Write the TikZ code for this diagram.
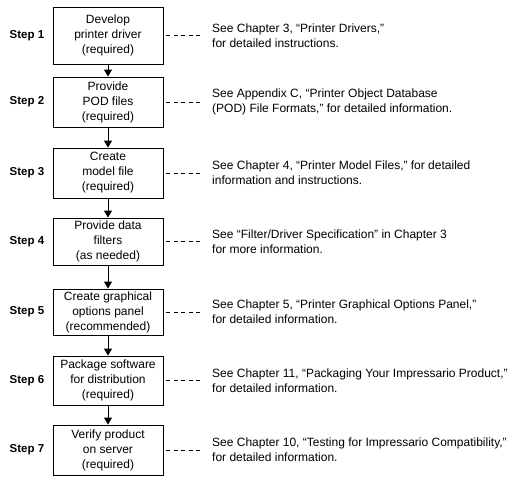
\documentclass[tikz,border=0pt]{standalone}
\usepackage{fontspec}
\setmainfont{Liberation Sans}
\usetikzlibrary{arrows.meta}
\begin{document}
\begin{tikzpicture}[x=1pt,y=-1pt,
	stepbox/.style={draw,line width=0.9pt,minimum width=110pt,inner sep=0pt,align=center,font=\fontsize{12}{15}\selectfont},
	steplabel/.style={inner sep=0pt,font=\bfseries\fontsize{11.5}{14}\selectfont},
	note/.style={anchor=west,inner sep=0pt,align=left,font=\fontsize{12}{15}\selectfont},
	flow/.style={line width=0.9pt,-{Triangle[width=8pt,length=7pt]}},
	link/.style={line width=0.8pt,dash pattern=on 4pt off 3.5pt,shorten <=3pt}]
	\def\xb{108}%centre of the boxes
	\def\xs{27}%centre of the step labels
	\def\xd{201}%end of the dashed lines
	\def\xn{212}%left edge of the notes
	\useasboundingbox (0,0) rectangle (531,483);
	\foreach \i/\yc/\hh/\task/\txt in {
		1/35.5/57/{Develop\\printer driver\\(required)}/{See Chapter 3, “Printer Drivers,”\\for detailed instructions.},
		2/102/50/{Provide\\POD files\\(required)}/{See Appendix C, “Printer Object Database\\(POD) File Formats,” for detailed information.},
		3/173/50/{Create\\model file\\(required)}/{See Chapter 4, “Printer Model Files,” for detailed\\information and instructions.},
		4/241.5/47/{Provide data\\filters\\(as needed)}/{See “Filter/Driver Specification” in Chapter 3\\for more information.},
		5/312/46/{Create graphical\\options panel\\(recommended)}/{See Chapter 5, “Printer Graphical Options Panel,”\\for detailed information.},
		6/380.5/49/{Package software\\for distribution\\(required)}/{See Chapter 11, “Packaging Your Impressario Product,”\\for detailed information.},
		7/450/50/{Verify product\\on server\\(required)}/{See Chapter 10, “Testing for Impressario Compatibility,”\\for detailed information.}}{
		\node[stepbox,minimum height=\hh pt] (box\i) at (\xb,\yc) {\task};
		\node[steplabel] (lab\i) at (\xs,\yc) {Step \i};
		\node[note] (note\i) at (\xn,\yc) {\txt};
		\coordinate (end\i) at (\xd,\yc);
		\draw[link] (box\i.east) -- (end\i);
	}
	\foreach \i in {1,...,6}{
		\pgfmathsetmacro{\j}{int(\i+1)}
		\draw[flow] (box\i.south) -- (box\j.north);
	}
\end{tikzpicture}
\end{document}
